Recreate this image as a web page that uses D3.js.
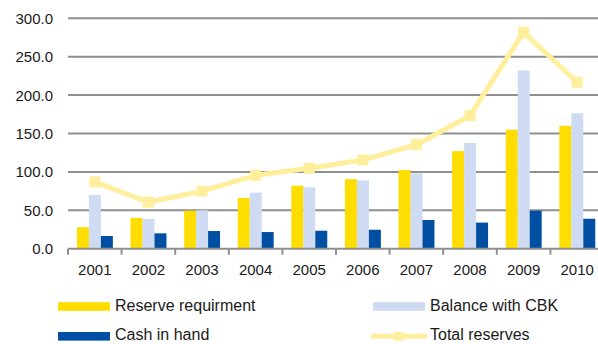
<!DOCTYPE html>
<html lang="en">
<head>
<meta charset="utf-8">
<title>Reserves</title>
<script src="https://d3js.org/d3.v7.min.js"></script>
<style>
body { margin: 0; background: #fff; }
text { font-family: "Liberation Sans", Arial, sans-serif; fill: #1a1a1a; }
</style>
</head>
<body>
<div id="chart"></div>
<script>
var years = ["2001","2002","2003","2004","2005","2006","2007","2008","2009","2010"];
var reserveReq = [28, 40, 49.5, 66, 82, 90.5, 102.5, 127, 155, 160];
var balanceCBK = [70, 38.7, 50, 73, 80, 89, 98, 137.6, 232, 176.3];
var cashInHand = [16.5, 20, 23, 21.7, 23.4, 24.7, 37.4, 34, 49.5, 39];
var totalReserves = [87, 60.5, 75, 95.6, 104.7, 115.5, 135.4, 173.2, 281.8, 216.7];
var yTicks = [0, 50, 100, 150, 200, 250, 300];

var width = 598, height = 344;

var svg = d3.select("#chart").append("svg")
    .attr("width", width)
    .attr("height", height);

var x0 = d3.scaleBand().domain(years).range([68, 604]);
var y = d3.scaleLinear().domain([0, 300]).range([248.7, 18.3]);

var series = [
  { name: "Reserve requirment", values: reserveReq, color: "#FFDD00" },
  { name: "Balance with CBK", values: balanceCBK, color: "#CFDBF2" },
  { name: "Cash in hand", values: cashInHand, color: "#004FA3" }
];

var bw = x0.bandwidth();
var x1 = d3.scaleBand().domain(d3.range(series.length))
    .range([bw * 0.167, bw * 0.837]);

// gridlines
svg.append("g").selectAll("line")
  .data(yTicks.filter(function(d) { return d > 0; }))
  .join("line")
    .attr("x1", 68).attr("x2", width)
    .attr("y1", function(d) { return y(d); })
    .attr("y2", function(d) { return y(d); })
    .attr("stroke", "#8f8f8f")
    .attr("stroke-width", 2);

// y labels
svg.append("g").selectAll("text")
  .data(yTicks)
  .join("text")
    .attr("x", 53)
    .attr("y", function(d) { return y(d); })
    .attr("dy", "0.36em")
    .attr("text-anchor", "end")
    .style("font-size", "15px")
    .text(function(d) { return d.toFixed(1); });

// bars
series.forEach(function(s, si) {
  svg.append("g").selectAll("rect")
    .data(s.values)
    .join("rect")
      .attr("x", function(d, i) { return x0(years[i]) + x1(si); })
      .attr("width", x1.bandwidth())
      .attr("y", function(d) { return y(d); })
      .attr("height", function(d) { return y(0) - y(d); })
      .attr("fill", s.color);
});

// x axis
var xAxis = svg.append("g");
xAxis.append("line")
    .attr("x1", 68).attr("x2", width)
    .attr("y1", y(0)).attr("y2", y(0))
    .attr("stroke", "#8f8f8f").attr("stroke-width", 2);
xAxis.selectAll("line.tick")
  .data(years.concat(["end"]))
  .join("line")
    .attr("class", "tick")
    .attr("x1", function(d, i) { return 68 + i * bw; })
    .attr("x2", function(d, i) { return 68 + i * bw; })
    .attr("y1", y(0)).attr("y2", y(0) + 6)
    .attr("stroke", "#8f8f8f").attr("stroke-width", 2);
xAxis.selectAll("text")
  .data(years)
  .join("text")
    .attr("x", function(d) { return x0(d) + bw / 2; })
    .attr("y", 274.5)
    .attr("text-anchor", "middle")
    .style("font-size", "15px")
    .text(function(d) { return d; });

// total reserves line
var lineColor = "#FFEF9C";
var line = d3.line()
    .x(function(d, i) { return x0(years[i]) + bw / 2; })
    .y(function(d) { return y(d); });
svg.append("path")
    .datum(totalReserves)
    .attr("d", line)
    .attr("fill", "none")
    .attr("stroke", lineColor)
    .attr("stroke-width", 5)
    .attr("stroke-linejoin", "round");
svg.append("g").selectAll("rect")
  .data(totalReserves)
  .join("rect")
    .attr("x", function(d, i) { return x0(years[i]) + bw / 2 - 5.5; })
    .attr("y", function(d) { return y(d) - 5.5; })
    .attr("width", 11).attr("height", 11)
    .attr("fill", lineColor);

// legend
var legend = [
  { name: "Reserve requirment", color: "#FFDD00", x: 58, y: 306.5, base: 311.3, type: "bar" },
  { name: "Balance with CBK", color: "#CFDBF2", x: 373, y: 306.5, base: 311.3, type: "bar" },
  { name: "Cash in hand", color: "#004FA3", x: 58, y: 336.3, base: 340.3, type: "bar" },
  { name: "Total reserves", color: lineColor, x: 373, y: 336.3, base: 340.3, type: "line" }
];
var lg = svg.append("g").selectAll("g").data(legend).join("g");
lg.each(function(d) {
  var g = d3.select(this);
  if (d.type === "bar") {
    g.append("rect")
      .attr("x", d.x).attr("y", d.y - 4.3)
      .attr("width", 52).attr("height", 8.6)
      .attr("fill", d.color);
  } else {
    g.append("line")
      .attr("x1", d.x).attr("x2", d.x + 52)
      .attr("y1", d.y).attr("y2", d.y)
      .attr("stroke", d.color).attr("stroke-width", 5)
      .attr("stroke-linecap", "round");
    g.append("rect")
      .attr("x", d.x + 26 - 4.5).attr("y", d.y - 4.5)
      .attr("width", 9).attr("height", 9)
      .attr("fill", d.color);
  }
  g.append("text")
    .attr("x", d.x + 57)
    .attr("y", d.base)
    .style("font-size", "16px")
    .text(d.name);
});
</script>
</body>
</html>
